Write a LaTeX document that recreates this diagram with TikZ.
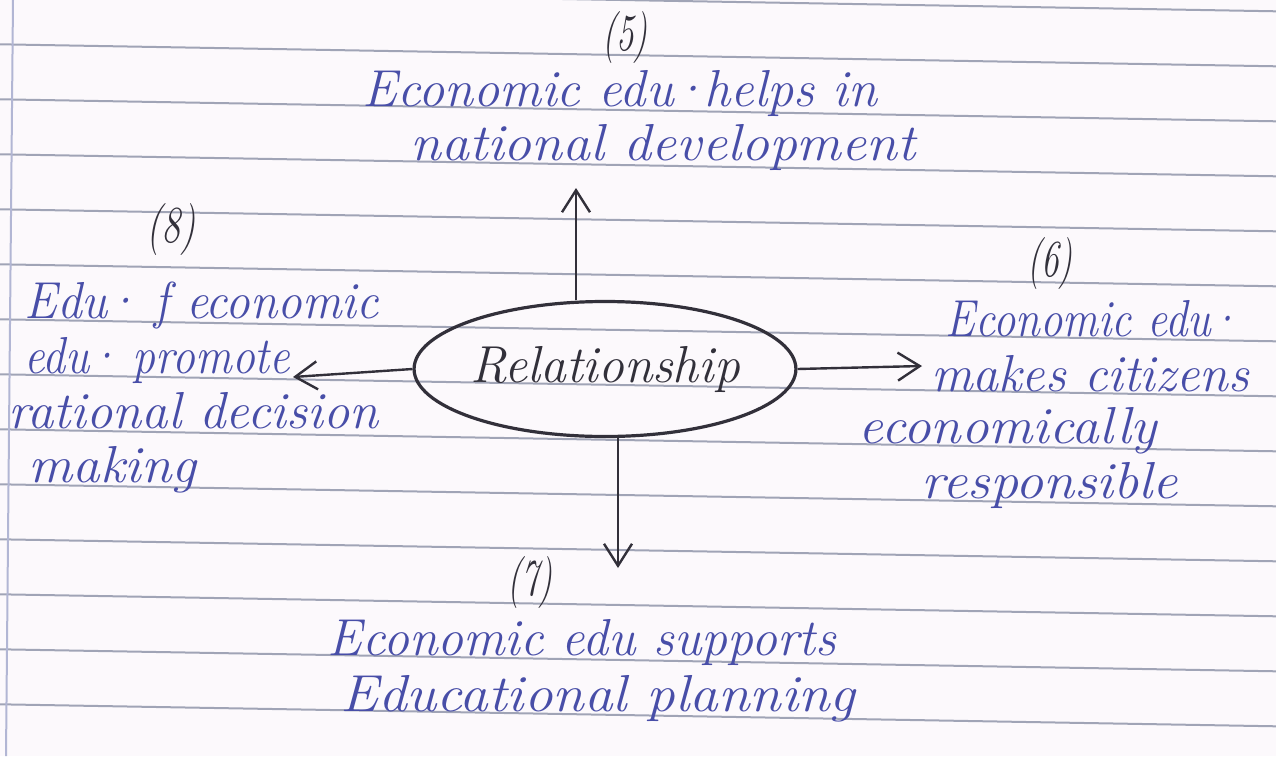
\documentclass[tikz,border=0pt]{standalone}
\usepackage{fontspec}
\usepackage{graphicx}
\usetikzlibrary{shapes.geometric,arrows.meta}

\definecolor{paper}{RGB}{252,249,252}
\definecolor{ruleline}{RGB}{160,164,182}
\definecolor{marginline}{RGB}{178,182,212}
\definecolor{ink}{RGB}{72,78,168}
\definecolor{pen}{RGB}{50,48,58}

% one drawing unit is 0.5pt; \fitw sets a line of writing to a given width
\newdimen\pxu \pxu=0.5pt
\newcommand\fitw[2]{\resizebox{#1\pxu}{\height}{#2}}
% a tight middle dot, as in "edu·"
\newcommand\mdot{\kern-2pt\textperiodcentered\kern-2pt}

\tikzset{
  hand/.style={font=\fontsize{26}{28}\selectfont\itshape, text=ink, inner sep=0pt, anchor=base},
  num/.style={hand, text=pen},
  hub/.style={ellipse, draw=pen, line width=1.6pt, inner sep=0pt,
              minimum width=162pt, minimum height=67.5pt,
              font=\fontsize{26}{28}\selectfont\itshape, text=pen},
  arr/.style={draw=pen, line width=1.2pt, -{Straight Barb[length=11pt,width=14pt]}},
  ruled/.style={draw=ruleline, line width=1pt},
}

\begin{document}
\begin{tikzpicture}[x=0.5pt,y=-0.5pt]
  % paper
  \fill[paper] (0,0) rectangle (1276,756);
  \useasboundingbox (0,0) rectangle (1276,756);

  % ruled lines, sloping gently down to the right
  \foreach \k in {-1,...,13}
    \draw[ruled] (0,{44.3+55*\k}) -- (1276,{66.3+55*\k});
  % margin
  \draw[draw=marginline, line width=1pt] (13,0) -- (6,756);

  % centre
  \node[hub] (rel) at (605,369) {\raisebox{-4pt}{\fitw{270}{Relationship}}};

  % (5) top
  \node[num]  (n5)  at (625,50) {\fitw{46}{(5)}};
  \node[hand] (t5a) at (620,106) {\fitw{515}{Economic edu\mdot helps in}};
  \node[hand] (t5b) at (663,160) {\fitw{505}{national development}};
  \coordinate (a5) at (576,188);

  % (6) right
  \node[num]  (n6)  at (1050,276) {\fitw{46}{(6)}};
  \node[hand] (t6a) at (1092,336) {\fitw{292}{Economic edu\mdot}};
  \node[hand] (t6b) at (1090,391) {\fitw{318}{makes citizens}};
  \node[hand] (t6c) at (1008,443) {\fitw{298}{economically}};
  \node[hand] (t6d) at (1050,498) {\fitw{256}{responsible}};
  \coordinate (a6) at (922,366);

  % (7) bottom
  \node[num]  (n7)  at (530,595) {\fitw{46}{(7)}};
  \node[hand] (t7a) at (582,655) {\fitw{508}{Economic edu supports}};
  \node[hand] (t7b) at (598,711) {\fitw{515}{Educational planning}};
  \coordinate (a7) at (618,568);

  % (8) left
  \node[num]  (n8)  at (171,242) {\fitw{50}{(8)}};
  \node[hand, anchor=base west] (t8a) at (24,318) {\fitw{354}{Edu\mdot{} f economic}};
  \node[hand, anchor=base west] (t8b) at (24,373) {\fitw{266}{edu\mdot{} promote}};
  \node[hand, anchor=base west] (t8c) at (8,428)  {\fitw{370}{rational decision}};
  \node[hand, anchor=base west] (t8d) at (28,482) {\fitw{168}{making}};
  \coordinate (a8) at (293,377);

  % connectors
  \draw[arr] (a5 |- rel.north) -- (a5);
  \draw[arr] (rel.east) -- (a6);
  \draw[arr] (a7 |- rel.south) -- (a7);
  \draw[arr] (rel.west) -- (a8);
\end{tikzpicture}
\end{document}
